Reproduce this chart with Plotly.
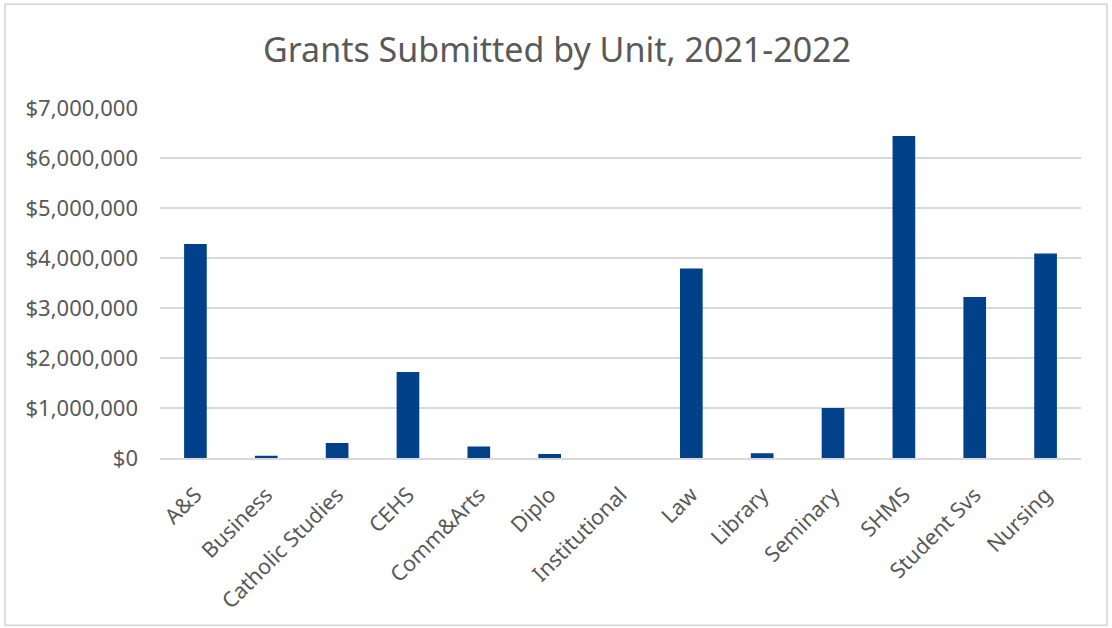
import plotly.graph_objects as go

units = ["A&S", "Business", "Catholic Studies", "CEHS", "Comm&Arts", "Diplo",
         "Institutional", "Law", "Library", "Seminary", "SHMS", "Student Svs", "Nursing"]
amounts = [4280000, 45000, 300000, 1720000, 230000, 80000,
           0, 3790000, 95000, 1000000, 6440000, 3220000, 4090000]
y_ticks = [0, 1000000, 2000000, 3000000, 4000000, 5000000, 6000000, 7000000]

W, H = 1112, 628
L, R, T, B = 160, 1081, 108, 458.5

def px_x(p):
    return (p - L) / (R - L)

def px_y(p):
    return (B - p) / (B - T)

fig = go.Figure(go.Bar(x=units, y=amounts, marker=dict(color="#004189", line=dict(width=0))))

font_fam = "Noto Sans"
fig.update_layout(
    width=W, height=H,
    margin=dict(l=L, r=W - R, t=T, b=H - B, autoexpand=False),
    paper_bgcolor="white", plot_bgcolor="white",
    bargap=0.68,
    showlegend=False,
    title=dict(text="Grants Submitted by Unit, 2021-2022", x=557 / W, xref="container",
               y=1 - 50 / H, yref="container", yanchor="middle", xanchor="center",
               font=dict(family=font_fam, size=34, color="#595959")),
    font=dict(family=font_fam, color="#595959"),
    shapes=[dict(type="rect", xref="paper", yref="paper",
                 x0=px_x(5), x1=px_x(1107), y0=px_y(626), y1=px_y(4),
                 line=dict(color="#d4d4d4", width=1.5), fillcolor="rgba(0,0,0,0)", layer="below")],
)
fig.update_yaxes(range=[0, 7000000], tickvals=y_ticks, tickformat="$,.0f",
                 showgrid=True, gridcolor="#d9d9d9", gridwidth=1.5, zeroline=False,
                 showline=False, ticks="", ticklabelstandoff=21,
                 tickfont=dict(family=font_fam, size=22, color="#595959"))
fig.update_xaxes(tickangle=-45, showline=True, linecolor="#d9d9d9", linewidth=1.5,
                 ticks="", showgrid=False, ticklabelstandoff=14,
                 tickfont=dict(family=font_fam, size=21.5, color="#595959"))

fig.write_html("out.html", config={"displayModeBar": False},
               post_script="document.body.style.margin='0';document.body.style.overflow='hidden';")
